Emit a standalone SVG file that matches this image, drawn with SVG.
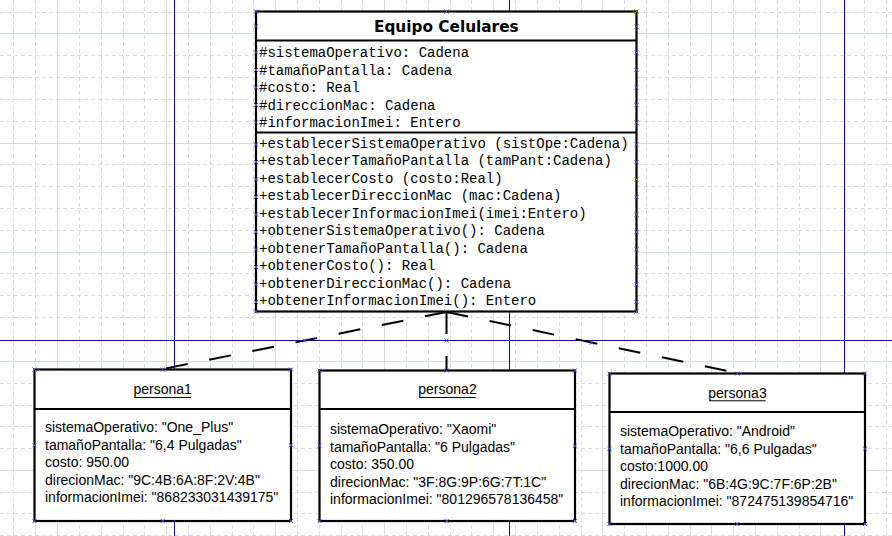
<svg xmlns="http://www.w3.org/2000/svg" xmlns:xlink="http://www.w3.org/1999/xlink" width="892" height="536" viewBox="0 0 892 536">
<style>
.gd{stroke:#d3dfdc;stroke-width:1;stroke-dasharray:4 3;fill:none}
.gs{stroke:#d3dfdc;stroke-width:1;fill:none}
.bl{stroke:#0a0aa0;stroke-width:1;fill:none}
.box{fill:#fff;stroke:#000;stroke-width:2.2}
.sep{stroke:#000;stroke-width:2.2}
.mono{font-family:"Liberation Mono","Courier New",monospace;font-size:14px;fill:#000}
.ttl{font-family:"DejaVu Sans",Verdana,sans-serif;font-weight:bold;font-size:15.3px;fill:#000}
.obj{font-family:"Liberation Sans",Arial,sans-serif;font-size:14px;fill:#000}
.ul{stroke:#000;stroke-width:1}
.con{stroke:#000;stroke-width:2;stroke-dasharray:22 22;fill:none}
.hx{stroke:#4a4ae6;stroke-width:1;fill:none}
</style>
<defs>
<path id="x" class="hx" d="M-2,-2L2,2M-2,2L2,-2"/>
</defs>
<rect width="892" height="536" fill="#fff"/>
<g id="grid">
<path class="gd" d="M13.5,0V536M35.5,0V536M79.5,0V536M101.5,0V536M123.5,0V536M144.5,0V536M188.5,0V536M210.5,0V536M232.5,0V536M253.5,0V536M297.5,0V536M319.5,0V536M341.5,0V536M362.5,0V536M406.5,0V536M428.5,0V536M450.5,0V536M471.5,0V536M515.5,0V536M537.5,0V536M559.5,0V536M581.5,0V536M624.5,0V536M646.5,0V536M668.5,0V536M690.5,0V536M733.5,0V536M755.5,0V536M777.5,0V536M799.5,0V536M864.5,0V536M886.5,0V536"/>
<path class="gd" d="M0,12.5H892M0,55.5H892M0,77.5H892M0,99.5H892M0,121.5H892M0,164.5H892M0,186.5H892M0,208.5H892M0,230.5H892M0,273.5H892M0,295.5H892M0,317.5H892M0,383.5H892M0,405.5H892M0,426.5H892M0,448.5H892M0,492.5H892M0,513.5H892M0,535.5H892"/>
<path class="gs" d="M57.5,0V536M166.5,0V536M275.5,0V536M384.5,0V536M493.5,0V536M602.5,0V536M711.5,0V536M820.5,0V536M0,33.5H892M0,143.5H892M0,252.5H892M0,361.5H892M0,470.5H892"/>
<path class="bl" d="M174.5,0V536M509.5,0V536M844.5,0V536M0,340.5H892"/>
</g>
<g id="equipo-celulares">
<rect class="box" x="256" y="11.5" width="380.5" height="300"/>
<line class="sep" x1="256" y1="40.5" x2="636.5" y2="40.5"/>
<line class="sep" x1="256" y1="132.5" x2="636.5" y2="132.5"/>
<text class="ttl" x="446.3" y="32" text-anchor="middle">Equipo Celulares</text>
<text class="mono" x="259">
<tspan x="259" y="57.3">#sistemaOperativo: Cadena</tspan>
<tspan x="259" y="74.7">#tamañoPantalla: Cadena</tspan>
<tspan x="259" y="92.1">#costo: Real</tspan>
<tspan x="259" y="109.5">#direccionMac: Cadena</tspan>
<tspan x="259" y="126.9">#informacionImei: Entero</tspan>
<tspan x="259" y="147.5">+establecerSistemaOperativo (sistOpe:Cadena)</tspan>
<tspan x="259" y="165">+establecerTamañoPantalla (tamPant:Cadena)</tspan>
<tspan x="259" y="182.5">+establecerCosto (costo:Real)</tspan>
<tspan x="259" y="200">+establecerDireccionMac (mac:Cadena)</tspan>
<tspan x="259" y="217.5">+establecerInformacionImei(imei:Entero)</tspan>
<tspan x="259" y="235">+obtenerSistemaOperativo(): Cadena</tspan>
<tspan x="259" y="252.5">+obtenerTamañoPantalla(): Cadena</tspan>
<tspan x="259" y="270">+obtenerCosto(): Real</tspan>
<tspan x="259" y="287.5">+obtenerDireccionMac(): Cadena</tspan>
<tspan x="259" y="305">+obtenerInformacionImei(): Entero</tspan>
</text>
<g>
<use href="#x" x="256" y="11.5"/><use href="#x" x="446.5" y="11.5"/><use href="#x" x="636.5" y="11.5"/>
<use href="#x" x="256" y="26.5"/><use href="#x" x="636.5" y="26.5"/>
<use href="#x" x="256" y="52.5"/><use href="#x" x="636.5" y="52.5"/>
<use href="#x" x="256" y="70"/><use href="#x" x="636.5" y="70"/>
<use href="#x" x="256" y="87.5"/><use href="#x" x="636.5" y="87.5"/>
<use href="#x" x="256" y="105"/><use href="#x" x="636.5" y="105"/>
<use href="#x" x="256" y="122.5"/><use href="#x" x="636.5" y="122.5"/>
<use href="#x" x="256" y="144.5"/><use href="#x" x="636.5" y="144.5"/>
<use href="#x" x="256" y="162"/><use href="#x" x="636.5" y="162"/>
<use href="#x" x="256" y="179.5"/><use href="#x" x="636.5" y="179.5"/>
<use href="#x" x="256" y="197"/><use href="#x" x="636.5" y="197"/>
<use href="#x" x="256" y="214.5"/><use href="#x" x="636.5" y="214.5"/>
<use href="#x" x="256" y="232"/><use href="#x" x="636.5" y="232"/>
<use href="#x" x="256" y="249.5"/><use href="#x" x="636.5" y="249.5"/>
<use href="#x" x="256" y="267"/><use href="#x" x="636.5" y="267"/>
<use href="#x" x="256" y="284.5"/><use href="#x" x="636.5" y="284.5"/>
<use href="#x" x="256" y="302"/><use href="#x" x="636.5" y="302"/>
<use href="#x" x="256" y="311.5"/><use href="#x" x="446.5" y="311.5"/><use href="#x" x="636.5" y="311.5"/>
</g>
</g>
<g id="persona1">
<rect class="box" x="34.5" y="369.5" width="256.5" height="151.5"/>
<line class="sep" x1="34.5" y1="409" x2="291" y2="409"/>
<text class="obj" x="162.7" y="394" text-anchor="middle">persona1</text>
<line class="ul" x1="134.3" y1="397.5" x2="191" y2="397.5"/>
<text class="obj">
<tspan x="45" y="432">sistemaOperativo: "One_Plus"</tspan>
<tspan x="45" y="449.5">tamañoPantalla: "6,4 Pulgadas"</tspan>
<tspan x="45" y="467">costo: 950.00</tspan>
<tspan x="45" y="484.5">direcionMac: "9C:4B:6A:8F:2V:4B"</tspan>
<tspan x="45" y="502">informacionImei: "868233031439175"</tspan>
</text>
<use href="#x" x="34.5" y="369.5"/><use href="#x" x="162.7" y="369.5"/><use href="#x" x="291" y="369.5"/>
<use href="#x" x="34.5" y="445.3"/><use href="#x" x="291" y="445.3"/>
<use href="#x" x="34.5" y="521"/><use href="#x" x="162.7" y="521"/><use href="#x" x="291" y="521"/>
</g>
<g id="persona2">
<rect class="box" x="319.5" y="370.5" width="255.5" height="150.5"/>
<line class="sep" x1="319.5" y1="409" x2="575" y2="409"/>
<text class="obj" x="447.5" y="394" text-anchor="middle">persona2</text>
<line class="ul" x1="419.3" y1="397.5" x2="475.7" y2="397.5"/>
<text class="obj">
<tspan x="330" y="434">sistemaOperativo: "Xaomi"</tspan>
<tspan x="330" y="451.5">tamañoPantalla: "6 Pulgadas"</tspan>
<tspan x="330" y="469">costo: 350.00</tspan>
<tspan x="330" y="486.5">direcionMac: "3F:8G:9P:6G:7T:1C"</tspan>
<tspan x="330" y="504">informacionImei: "801296578136458"</tspan>
</text>
<use href="#x" x="319.5" y="370.5"/><use href="#x" x="446.7" y="370.5"/><use href="#x" x="575" y="370.5"/>
<use href="#x" x="319.5" y="445.7"/><use href="#x" x="575" y="445.7"/>
<use href="#x" x="319.5" y="521"/><use href="#x" x="446.7" y="521"/><use href="#x" x="575" y="521"/>
</g>
<g id="persona3">
<rect class="box" x="609.5" y="373.5" width="255.5" height="150.5"/>
<line class="sep" x1="609.5" y1="412" x2="865" y2="412"/>
<text class="obj" x="737.5" y="397.5" text-anchor="middle">persona3</text>
<line class="ul" x1="709.3" y1="400.8" x2="765.7" y2="400.8"/>
<text class="obj">
<tspan x="620" y="436">sistemaOperativo: "Android"</tspan>
<tspan x="620" y="453.5">tamañoPantalla: "6,6 Pulgadas"</tspan>
<tspan x="620" y="471">costo:1000.00</tspan>
<tspan x="620" y="488.5">direcionMac: "6B:4G:9C:7F:6P:2B"</tspan>
<tspan x="620" y="506">informacionImei: "872475139854716"</tspan>
</text>
<use href="#x" x="609.5" y="373.5"/><use href="#x" x="737.3" y="373.5"/><use href="#x" x="865" y="373.5"/>
<use href="#x" x="609.5" y="448.7"/><use href="#x" x="865" y="448.7"/>
<use href="#x" x="609.5" y="524"/><use href="#x" x="737.3" y="524"/><use href="#x" x="865" y="524"/>
</g>
<g id="connectors">
<path class="con" d="M446.5,312L163,369"/>
<path class="con" d="M446.5,312L446.5,370"/>
<path class="con" d="M446.5,312L737,373"/>
<use href="#x" x="304.8" y="340.5"/>
<use href="#x" x="446.5" y="340.5"/>
<use href="#x" x="591.8" y="342.5"/>
</g>
</svg>
